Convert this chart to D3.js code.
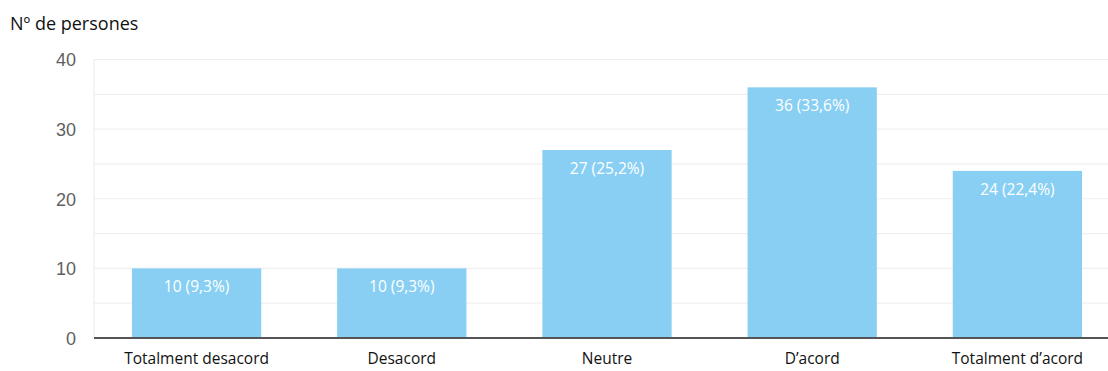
<!DOCTYPE html>
<html><head><meta charset="utf-8">
<script src="https://cdn.jsdelivr.net/npm/d3@7"></script>
<style>body{margin:0;background:#fff}svg{display:block}</style>
</head><body>
<svg id="c" width="1108" height="371"></svg>
<script>
const categories = ["Totalment desacord","Desacord","Neutre","D\u2019acord","Totalment d\u2019acord"];
const values = [10,10,27,36,24];
const labels = ["10 (9,3%)","10 (9,3%)","27 (25,2%)","36 (33,6%)","24 (22,4%)"];
const yTicks = [0,10,20,30,40];
const gridTicks = [5,10,15,20,25,30,35,40];
const yTitle = "N\u00BA de persones";

(function(){
const svg = d3.select("#c");
const mLeft = 94, mRight = 1120, mTop = 59.5, mBottom = 338;
const x = d3.scaleBand().domain(categories).range([mLeft, mRight]).paddingInner(0.37).paddingOuter(0.185);
const y = d3.scaleLinear().domain([0,40]).range([mBottom, mTop]);
const font = "'Open Sans', 'Noto Sans', sans-serif";

svg.append("g").selectAll("line").data(gridTicks).join("line")
  .attr("x1", mLeft).attr("x2", mRight).attr("y1", d=>y(d)).attr("y2", d=>y(d))
  .attr("stroke", "#efefef").attr("stroke-width", 1.2);
svg.append("line").attr("x1", mLeft).attr("x2", mLeft).attr("y1", mTop).attr("y2", mBottom)
  .attr("stroke", "#efefef").attr("stroke-width", 1.2);

svg.append("g").selectAll("rect").data(values).join("rect")
  .attr("x", (d,i)=>x(categories[i])).attr("width", x.bandwidth())
  .attr("y", d=>y(d)).attr("height", d=>mBottom - y(d)).attr("fill", "#88cff3");

svg.append("g").selectAll("text").data(values).join("text")
  .attr("x", (d,i)=>x(categories[i]) + x.bandwidth()/2).attr("y", d=>y(d) + 24)
  .attr("text-anchor", "middle").attr("fill", "#fff").attr("font-family", font)
  .attr("font-size", 15.5).text((d,i)=>labels[i]);

svg.append("line").attr("x1", mLeft).attr("x2", mRight).attr("y1", mBottom).attr("y2", mBottom)
  .attr("stroke", "#555").attr("stroke-width", 2);

const yAxis = d3.axisLeft(y).tickValues(yTicks).tickSize(0).tickPadding(0);
const ga = svg.append("g").attr("transform", `translate(${mLeft-18},0)`).call(yAxis);
ga.select(".domain").remove();
ga.selectAll("text").attr("font-family", "'Liberation Sans', Arial, sans-serif")
  .attr("font-size", 18).attr("fill", "#5f5f5f").attr("dy", "0.36em");

const xAxis = d3.axisBottom(x).tickSize(0).tickPadding(0);
const gx = svg.append("g").attr("transform", `translate(0,${mBottom+12})`).call(xAxis);
gx.select(".domain").remove();
gx.selectAll("text").attr("font-family", font).attr("font-size", 15.5).attr("fill", "#111").attr("dy", "0.9em");

svg.append("text").attr("x", 10).attr("y", 30).attr("font-family", font)
  .attr("font-size", 18).attr("fill", "#111").text(yTitle);
})();
</script>
</body></html>
